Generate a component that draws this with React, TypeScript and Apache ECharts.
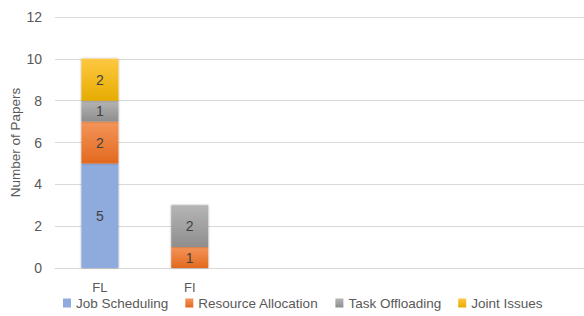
import React, { useEffect, useRef } from "react";
import * as echarts from "echarts";

const categories = ["FL", "FI", "", "", "", ""];
const jobScheduling = [5, null, null, null, null, null];
const resourceAllocation = [2, 1, null, null, null, null];
const taskOffloading = [1, 2, null, null, null, null];
const jointIssues = [2, null, null, null, null, null];
const seriesNames = ["Job Scheduling", "Resource Allocation", "Task Offloading", "Joint Issues"];

const FONT = "Liberation Sans";

function grad(top: string, bottom: string) {
  return new echarts.graphic.LinearGradient(0, 0, 0, 1, [
    { offset: 0, color: top },
    { offset: 1, color: bottom },
  ]);
}

export default function App() {
  const ref = useRef<HTMLDivElement>(null);
  useEffect(() => {
    if (!ref.current) return;
    const chart = echarts.init(ref.current, null, { renderer: "svg" });
    const mk = (name: string, data: (number | null)[], color: any) => ({
      name,
      type: "bar",
      stack: "total",
      data,
      barWidth: 37,
      itemStyle: {
        color,
        shadowBlur: 2,
        shadowColor: "rgba(0,0,0,0.35)",
      },
      label: {
        show: true,
        position: "inside",
        color: "#404040",
        fontFamily: FONT,
        fontSize: 14,
      },
    });
    chart.setOption({
      animation: false,
      grid: { left: 55, right: -10, top: 17, bottom: 48, outerBoundsMode: "none", containLabel: false },
      legend: {
        bottom: 1,
        left: 58,
        itemWidth: 8,
        itemHeight: 9,
        itemGap: 17,
        icon: "rect",
        textStyle: { color: "#595959", fontFamily: FONT, fontSize: 13.5 },
        data: seriesNames,
      },
      xAxis: {
        type: "category",
        data: categories,
        axisLine: { lineStyle: { color: "#d9d9d9" } },
        axisTick: { show: false },
        axisLabel: { color: "#595959", fontFamily: FONT, fontSize: 13, margin: 13 },
      },
      yAxis: {
        type: "value",
        min: 0,
        max: 12,
        interval: 2,
        name: "Number of Papers",
        nameLocation: "middle",
        nameGap: 33,
        nameMoveOverlap: false,
        nameTextStyle: { color: "#595959", fontFamily: FONT, fontSize: 13.5 },
        axisLabel: { color: "#595959", fontFamily: FONT, fontSize: 14, margin: 13 },
        splitLine: { lineStyle: { color: "#d9d9d9" } },
        axisLine: { show: false },
        axisTick: { show: false },
      },
      series: [
        mk(seriesNames[0], jobScheduling, "#8FAADC"),
        mk(seriesNames[1], resourceAllocation, grad("#F4955A", "#E2691E")),
        mk(seriesNames[2], taskOffloading, grad("#B5B5B5", "#8E8E8E")),
        mk(seriesNames[3], jointIssues, grad("#FFC842", "#E6AC00")),
      ],
    });
    return () => chart.dispose();
  }, []);
  return <div ref={ref} style={{ width: 584, height: 316, position: "absolute", left: 0, top: 0 }} />;
}
